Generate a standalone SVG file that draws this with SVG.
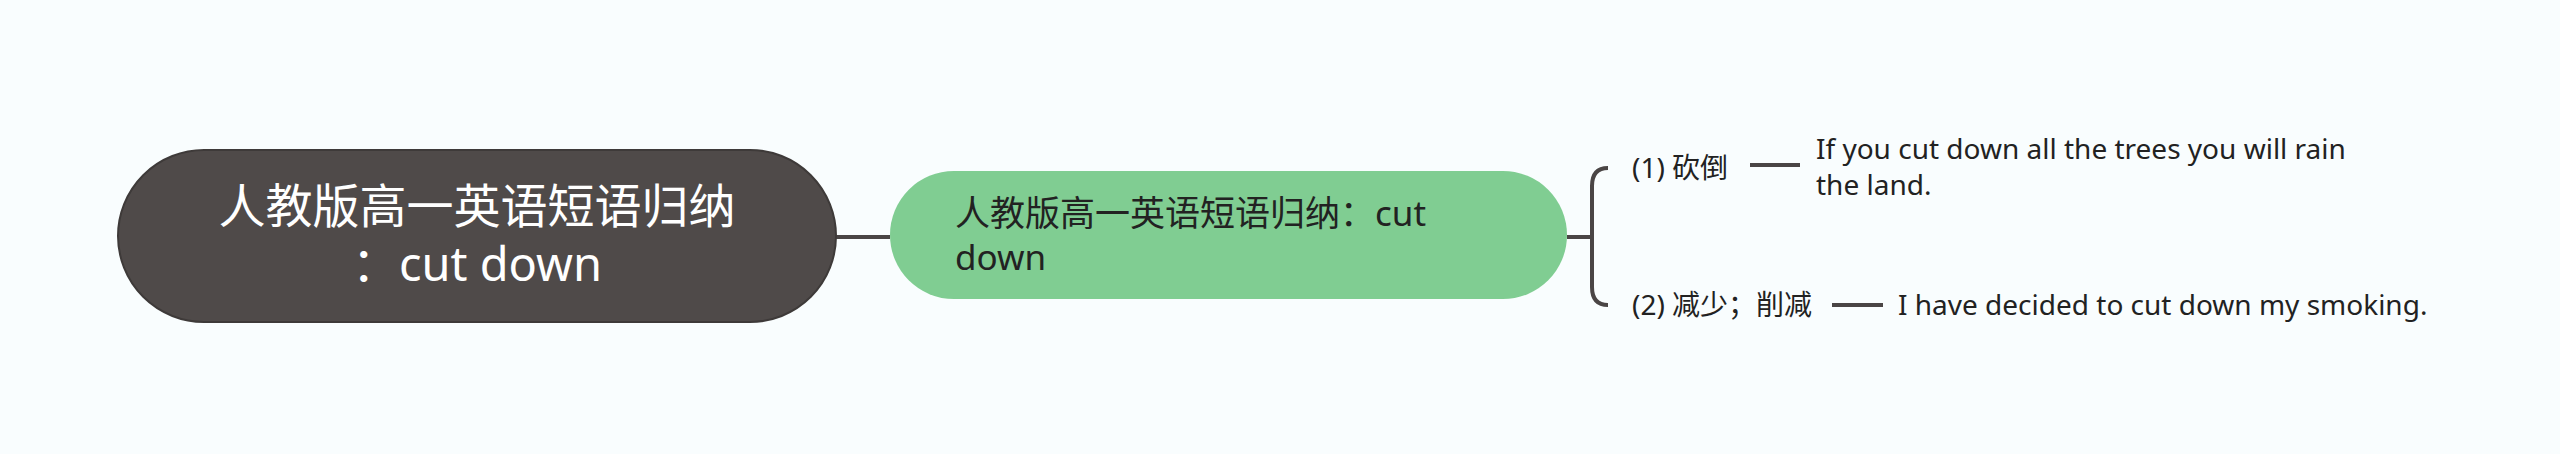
<svg xmlns="http://www.w3.org/2000/svg" width="2560" height="454" viewBox="0 0 2560 454">
<style>
.bg{fill:#f9fdfe}
.conn{fill:none;stroke:#4a4545;stroke-width:4}
.root{fill:#4f4a49;stroke:#3e3a39;stroke-width:2}
.main{fill:#80cd92}
.t{font-family:"Noto Sans","Noto Sans CJK SC",sans-serif}
.rt{fill:#ffffff;font-size:47px}
.mt{fill:#222222;font-size:35px}
.st{fill:#222222;font-size:28px}
</style>
<rect class="bg" x="0" y="0" width="2560" height="454"/>
<g id="connectors">
<line class="conn" x1="836" y1="237" x2="890" y2="237"/>
<line class="conn" x1="1567" y1="237" x2="1592" y2="237"/>
<path class="conn" d="M1608 168 Q1592 168 1592 186 L1592 287 Q1592 305 1608 305"/>
<line class="conn" x1="1750" y1="165" x2="1800" y2="165"/>
<line class="conn" x1="1832" y1="305" x2="1883" y2="305"/>
</g>
<g id="root">
<rect class="root" x="118" y="150" width="718" height="172" rx="86"/>
<text class="t rt" x="477" y="223" text-anchor="middle">人教版高一英语短语归纳</text>
<text class="t rt" x="477" y="281" text-anchor="middle">：cut down</text>
</g>
<g id="main">
<rect class="main" x="890" y="171" width="677" height="128" rx="64"/>
<text class="t mt" x="955" y="226">人教版高一英语短语归纳：cut</text>
<text class="t mt" x="955" y="270">down</text>
</g>
<g id="sub1">
<text class="t st" x="1632" y="178">(1) 砍倒</text>
</g>
<g id="ex1">
<text class="t st" x="1816" y="159">If you cut down all the trees you will rain</text>
<text class="t st" x="1816" y="195">the land.</text>
</g>
<g id="sub2">
<text class="t st" x="1632" y="315">(2) 减少；削减</text>
</g>
<g id="ex2">
<text class="t st" x="1898" y="315">I have decided to cut down my smoking.</text>
</g>
</svg>
